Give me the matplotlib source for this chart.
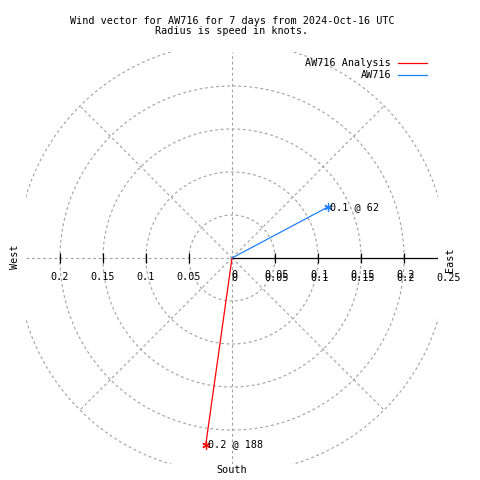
import numpy as np
import matplotlib.pyplot as plt

# wind vectors (speed in knots, compass direction in degrees)
series = ["AW716 Analysis", "AW716"]
speeds = [0.219, 0.127]
directions = [188, 62]
colors = ["#ff0000", "#1e80ff"]

rings = [0.05, 0.1, 0.15, 0.2, 0.25]
tick_vals = [0.05, 0.1, 0.15, 0.2]
rmax = 0.2395

title = "Wind vector for AW716 for 7 days from 2024-Oct-16 UTC\nRadius is speed in knots."

plt.rcParams['font.family'] = ['DejaVu Sans Mono']
fs = 7.3
grid_kw = dict(color="#a0a0a0", lw=0.8, linestyle=(0, (2.5, 2.5)), zorder=1)

fig = plt.figure(figsize=(4.8, 4.8), dpi=100)
ax = fig.add_axes([26/480, 16/480, 412/480, 412/480])
ax.set_xlim(-rmax, rmax)
ax.set_ylim(-rmax, rmax)
ax.set_aspect("equal")
ax.axis("off")

# grid circles and spokes
th = np.linspace(0, 2*np.pi, 400)
for r in rings:
    ax.plot(r*np.cos(th), r*np.sin(th), **grid_kw)
for a in [45, 135, 225, 315]:
    ax.plot([0, 0.25*np.cos(np.radians(a))], [0, 0.25*np.sin(np.radians(a))], **grid_kw)
ax.plot([0, 0], [-rmax, rmax], **grid_kw)
ax.plot([-rmax, 0], [0, 0], **grid_kw)

# east axis, ticks
ax.plot([0, rmax], [0, 0], color="black", lw=0.9, zorder=2)
tv = np.array(tick_vals)
ax.plot(np.concatenate([tv, -tv]), np.zeros(2*len(tv)), ls="none", marker="|",
        color="black", ms=7, mew=0.9, zorder=2)

for v in tick_vals:
    ax.annotate(f"{v:g}", (-v, 0), xytext=(0, -19), textcoords="offset pixels",
                ha="center", va="center", fontsize=fs)
# gnuplot draws the east labels twice, slightly shifted
for v in [0] + tick_vals:
    ax.annotate(f"{v:g}", (v, 0), xytext=(2, -17), textcoords="offset pixels",
                ha="center", va="center", fontsize=fs)
for v in [0] + tick_vals:
    ax.annotate(f"{v:g}", (v, 0), xytext=(2, -20), textcoords="offset pixels",
                ha="center", va="center", fontsize=fs)
ax.annotate("0.25", (0.25, 0), xytext=(2, -20), textcoords="offset pixels",
            ha="center", va="center", fontsize=fs, annotation_clip=False)

# compass labels
fig.text(15/480, 1-257/480, "West", rotation=90, ha="center", va="center", fontsize=fs)
fig.text(450/480, 1-260/480, "East", rotation=90, ha="center", va="center", fontsize=fs)
fig.text(232/480, 1-470/480, "South", ha="center", va="center", fontsize=fs)

# vectors
for name, s, d, c in zip(series, speeds, directions, colors):
    x = s*np.sin(np.radians(d))
    y = s*np.cos(np.radians(d))
    ax.plot([0, x], [0, y], color=c, lw=0.9, zorder=3, label=name)
    ax.plot([x], [y], ls="none", marker=(6, 2, 0), ms=6, mew=0.9, color=c, zorder=3)
    ax.annotate(f"{s:.1f} @ {d}", (x, y), xytext=(2, 0), textcoords="offset pixels",
                ha="left", va="center", fontsize=fs, zorder=4)

# legend
for i, (name, c) in enumerate(zip(series, colors)):
    yy = 1 - (63 + 12*i)/480
    fig.text(391/480, yy, name, ha="right", va="center", fontsize=fs)
    fig.add_artist(plt.Line2D([398/480, 427/480], [yy, yy], color=c, lw=0.9))

fig.text(232/480, 1-26/480, title, ha="center", va="center", fontsize=fs,
         linespacing=1.05)

fig.savefig("out.png", dpi=100)
